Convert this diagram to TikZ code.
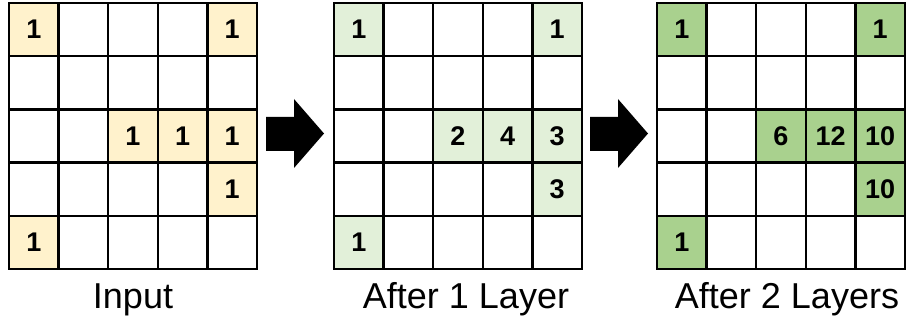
\documentclass[tikz,border=0pt]{standalone}
\usepackage{fontspec}
\setmainfont{Liberation Sans}
\definecolor{inputYellow}{HTML}{FFF2CC}
\definecolor{paleGreen}{HTML}{E2F0D9}
\definecolor{midGreen}{HTML}{A9D18E}
\begin{document}
\begin{tikzpicture}[x=1pt,y=-1pt,
  cell/.style={draw=black, line width=2.5pt, minimum width=49.6pt,
    minimum height=53.2pt, inner sep=0pt, outer sep=0pt,
    font=\fontsize{27}{27}\selectfont\bfseries},
  caption/.style={anchor=base, inner sep=0pt, font=\fontsize{36}{36}\selectfont},
  flow/.style={fill=black}]
  \useasboundingbox (0,0) rectangle (906,323);

  % three 5x5 grids: a = input, b = after one layer, c = after two layers
  \foreach \g/\x in {a/9, b/334, c/657}{
    \foreach \r in {0,...,4}{
      \foreach \c in {0,...,4}{
        \node[cell] (\g-\r-\c) at (\x+24.8+\c*49.6, 3+26.6+\r*53.2) {};
      }
    }
  }

  % non-zero entries
  \foreach \r/\c/\v in {0/0/1, 0/4/1, 2/2/1, 2/3/1, 2/4/1, 3/4/1, 4/0/1}
    \node[cell, fill=inputYellow] (av-\r-\c) at (a-\r-\c) {\v};
  \foreach \r/\c/\v in {0/0/1, 0/4/1, 2/2/2, 2/3/4, 2/4/3, 3/4/3, 4/0/1}
    \node[cell, fill=paleGreen] (bv-\r-\c) at (b-\r-\c) {\v};
  \foreach \r/\c/\v in {0/0/1, 0/4/1, 2/2/6, 2/3/12, 2/4/10, 3/4/10, 4/0/1}
    \node[cell, fill=midGreen] (cv-\r-\c) at (c-\r-\c) {\v};

  % block arrows between the grids
  \foreach \s in {0, 324}{
    \fill[flow, xshift=\s pt] (266,117) -- (294,117) -- (294,99) -- (324,133.5)
      -- (294,168) -- (294,151) -- (266,151) -- cycle;
  }

  % captions
  \node[caption] (capA) at (133,309) {Input};
  \node[caption] (capB) at (466,309) {After 1 Layer};
  \node[caption] (capC) at (787,309) {After 2 Layers};
\end{tikzpicture}
\end{document}
